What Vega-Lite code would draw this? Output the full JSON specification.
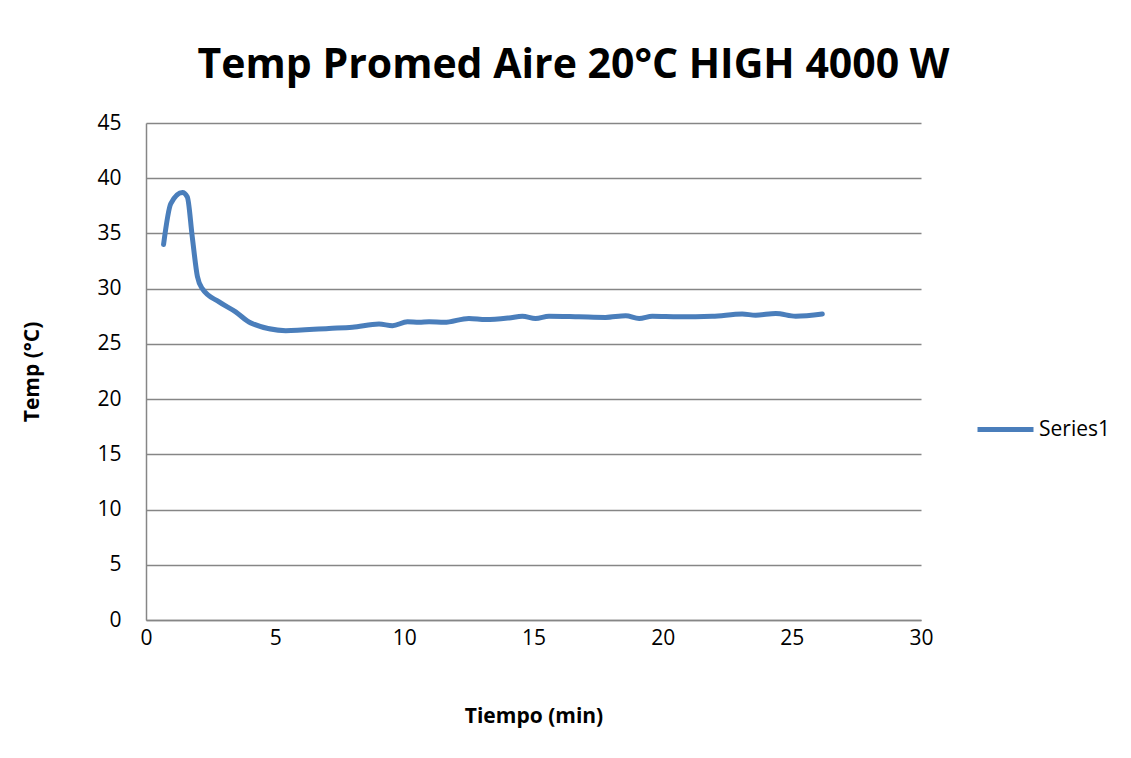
{
  "$schema": "https://vega.github.io/schema/vega-lite/v6.json",
  "width": 775,
  "height": 497,
  "autosize": {"type": "none"},
  "padding": {"left": 146, "top": 123, "right": 210, "bottom": 138},
  "background": "white",
  "title": {
    "text": "Temp Promed Aire 20°C HIGH 4000 W",
    "font": "Open Sans",
    "fontSize": 41,
    "fontWeight": "bold",
    "color": "#000000",
    "anchor": "middle",
    "baseline": "alphabetic",
    "offset": -7,
    "dx": 40
  },
  "data": {
    "values": [
      {"t": 0.68, "temp": 34.0, "series": "Series1"},
      {"t": 0.96, "temp": 37.7, "series": "Series1"},
      {"t": 1.41, "temp": 38.7, "series": "Series1"},
      {"t": 1.60, "temp": 38.3, "series": "Series1"},
      {"t": 1.79, "temp": 34.7, "series": "Series1"},
      {"t": 1.99, "temp": 31.1, "series": "Series1"},
      {"t": 2.18, "temp": 30.0, "series": "Series1"},
      {"t": 2.83, "temp": 28.8, "series": "Series1"},
      {"t": 3.47, "temp": 27.9, "series": "Series1"},
      {"t": 4.05, "temp": 26.9, "series": "Series1"},
      {"t": 5.41, "temp": 26.2, "series": "Series1"},
      {"t": 7.08, "temp": 26.4, "series": "Series1"},
      {"t": 7.99, "temp": 26.5, "series": "Series1"},
      {"t": 9.02, "temp": 26.8, "series": "Series1"},
      {"t": 9.54, "temp": 26.65, "series": "Series1"},
      {"t": 10.12, "temp": 27.0, "series": "Series1"},
      {"t": 10.57, "temp": 26.95, "series": "Series1"},
      {"t": 10.96, "temp": 27.0, "series": "Series1"},
      {"t": 11.54, "temp": 26.95, "series": "Series1"},
      {"t": 12.50, "temp": 27.3, "series": "Series1"},
      {"t": 13.15, "temp": 27.2, "series": "Series1"},
      {"t": 14.05, "temp": 27.35, "series": "Series1"},
      {"t": 14.57, "temp": 27.5, "series": "Series1"},
      {"t": 15.08, "temp": 27.3, "series": "Series1"},
      {"t": 15.60, "temp": 27.5, "series": "Series1"},
      {"t": 16.76, "temp": 27.45, "series": "Series1"},
      {"t": 17.79, "temp": 27.4, "series": "Series1"},
      {"t": 18.57, "temp": 27.55, "series": "Series1"},
      {"t": 19.09, "temp": 27.3, "series": "Series1"},
      {"t": 19.60, "temp": 27.5, "series": "Series1"},
      {"t": 20.63, "temp": 27.45, "series": "Series1"},
      {"t": 21.92, "temp": 27.5, "series": "Series1"},
      {"t": 23.08, "temp": 27.7, "series": "Series1"},
      {"t": 23.60, "temp": 27.6, "series": "Series1"},
      {"t": 24.38, "temp": 27.75, "series": "Series1"},
      {"t": 25.15, "temp": 27.5, "series": "Series1"},
      {"t": 26.18, "temp": 27.7, "series": "Series1"}
    ]
  },
  "mark": {"type": "line", "interpolate": "monotone", "strokeWidth": 5, "strokeCap": "round", "strokeJoin": "round"},
  "encoding": {
    "x": {
      "field": "t",
      "type": "quantitative",
      "scale": {"domain": [0, 30], "nice": false, "zero": true},
      "axis": {
        "title": "Tiempo (min)",
        "values": [0, 5, 10, 15, 20, 25, 30],
        "grid": false,
        "ticks": false,
        "labelFlush": false,
        "domainColor": "#868686",
        "domainWidth": 1.5,
        "labelPadding": 7,
        "titlePadding": 57
      }
    },
    "y": {
      "field": "temp",
      "type": "quantitative",
      "scale": {"domain": [0, 45], "nice": false},
      "axis": {
        "title": "Temp (°C)",
        "values": [0, 5, 10, 15, 20, 25, 30, 35, 40, 45],
        "grid": true,
        "gridColor": "#868686",
        "gridWidth": 1.3,
        "ticks": false,
        "domainColor": "#868686",
        "domainWidth": 1.5,
        "labelPadding": 25,
        "titlePadding": 54
      }
    },
    "color": {
      "field": "series",
      "type": "nominal",
      "scale": {"range": ["#4A7EBB"]},
      "legend": {
        "title": null,
        "orient": "none",
        "legendX": 829,
        "legendY": 276,
        "symbolType": "stroke",
        "symbolSize": 3136,
        "symbolStrokeWidth": 5,
        "labelFont": "Open Sans",
        "labelFontSize": 21,
        "labelColor": "#000000",
        "labelOffset": 3
      }
    }
  },
  "config": {
    "view": {"stroke": null},
    "axis": {
      "labelFont": "Open Sans",
      "labelFontSize": 21,
      "labelColor": "#000000",
      "titleFont": "Open Sans",
      "titleFontSize": 21,
      "titleFontWeight": "bold",
      "titleColor": "#000000"
    }
  }
}
